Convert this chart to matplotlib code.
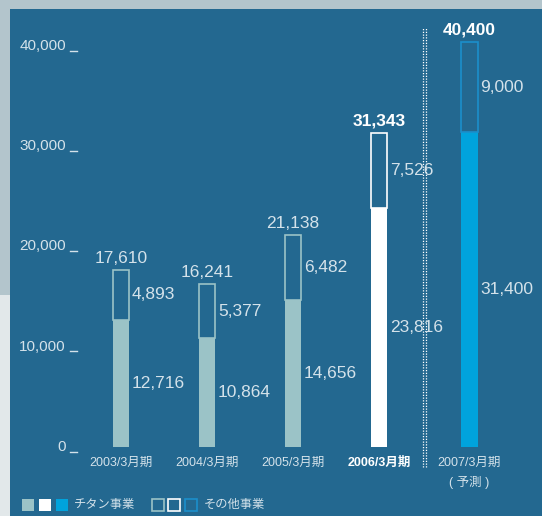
import matplotlib.pyplot as plt
from matplotlib.patches import Rectangle
from matplotlib.transforms import blended_transform_factory

plt.rcParams['font.family'] = ['Liberation Sans', 'Noto Sans CJK JP', 'DejaVu Sans']

periods = ["2003/3月期", "2004/3月期", "2005/3月期", "2006/3月期", "2007/3月期"]
titanium = [12716, 10864, 14656, 23816, 31400]
other = [4893, 5377, 6482, 7526, 9000]
totals = [17610, 16241, 21138, 31343, 40400]
yticks = [0, 10000, 20000, 30000, 40000]

PANEL = "#236890"
TEXT = "#d4e2ea"
fills = ["#9bc3c7", "#9bc3c7", "#9bc3c7", "#ffffff", "#00a3dd"]
edges = ["#9bc3c7", "#9bc3c7", "#9bc3c7", "#ffffff", "#1b8fcc"]
xpos = [0, 1, 2, 3, 4.05]
W, H = 542, 516


def main():
    fig = plt.figure(figsize=(W / 100, H / 100), dpi=100)
    fig.patch.set_facecolor("#b3c5cc")
    # light strip at lower left + dark panel
    fig.patches.append(Rectangle((0, 0), 10 / W, (H - 295) / H, transform=fig.transFigure,
                                 facecolor="#e2e8ea", edgecolor="none", zorder=-10))
    fig.patches.append(Rectangle((10 / W, 0), 1, (H - 9) / H, transform=fig.transFigure,
                                 facecolor=PANEL, edgecolor="none", zorder=-10))

    ax = fig.add_axes([75 / W, 69 / H, 460 / W, 437 / H])
    ax.set_facecolor("none")
    ax.set_xlim(-0.535, 4.814)
    ax.set_ylim(0, 43590)
    ax.axis("off")

    bw = 0.195
    for i, x in enumerate(xpos):
        ax.bar(x, titanium[i], bw, color=fills[i], edgecolor="none", zorder=3)
        ax.bar(x, other[i], bw, bottom=titanium[i], color="none",
               edgecolor=edges[i], linewidth=1.2, zorder=3)
        bold = i >= 3
        ax.text(x, totals[i] + 450, f"{totals[i]:,}", ha="center", va="bottom",
                color="white" if bold else TEXT, fontsize=12.5,
                fontweight="bold" if bold else "normal")
        ax.text(x + bw / 2 + 0.03, titanium[i] + other[i] / 2, f"{other[i]:,}",
                ha="left", va="center", color=TEXT, fontsize=12.5)
        ax.text(x + bw / 2 + 0.03, titanium[i] / 2, f"{titanium[i]:,}",
                ha="left", va="center", color=TEXT, fontsize=12.5)
        ax.text(x, -1000, periods[i], ha="center", va="top", color="white" if i == 3 else TEXT,
                fontsize=9, fontweight="bold" if i == 3 else "normal", clip_on=False)
    ax.text(xpos[4], -2900, "( 予測 )", ha="center", va="top", color=TEXT,
            fontsize=9, clip_on=False)

    # y tick labels with little dash marks
    tr = blended_transform_factory(fig.transFigure, ax.transData)
    for v in yticks:
        ax.text(66 / W, v, f"{v:,}", ha="right", va="center", color=TEXT,
                fontsize=11, transform=tr, clip_on=False)
        ax.plot([70 / W, 77 / W], [v - 450, v - 450], color=TEXT, lw=1,
                transform=tr, clip_on=False)

    # dotted separator
    for dx in (-0.018, 0.018):
        ax.plot([3.53 + dx, 3.53 + dx], [-2000, 41800], color="white", lw=0.9,
                linestyle=(0, (1, 1.2)), clip_on=False, zorder=2)

    # legend
    def sq(x0, fc, ec):
        fig.patches.append(Rectangle((x0 / W, (H - 511) / H), 12 / W, 12 / H,
                                     transform=fig.transFigure, facecolor=fc,
                                     edgecolor=ec, linewidth=1.2, zorder=3))
    for x0, c in zip([22, 39, 56], ["#9bc3c7", "#ffffff", "#00a3dd"]):
        sq(x0, c, "none")
    fig.text(74 / W, (H - 505) / H, "チタン事業", color=TEXT, fontsize=8.8, va="center")
    for x0, c in zip([152, 168, 185], ["#9bc3c7", "#ffffff", "#1b8fcc"]):
        sq(x0, "none", c)
    fig.text(204 / W, (H - 505) / H, "その他事業", color=TEXT, fontsize=8.8, va="center")

    fig.savefig("out.png", dpi=100)
    plt.close(fig)


if __name__ == "__main__":
    main()
